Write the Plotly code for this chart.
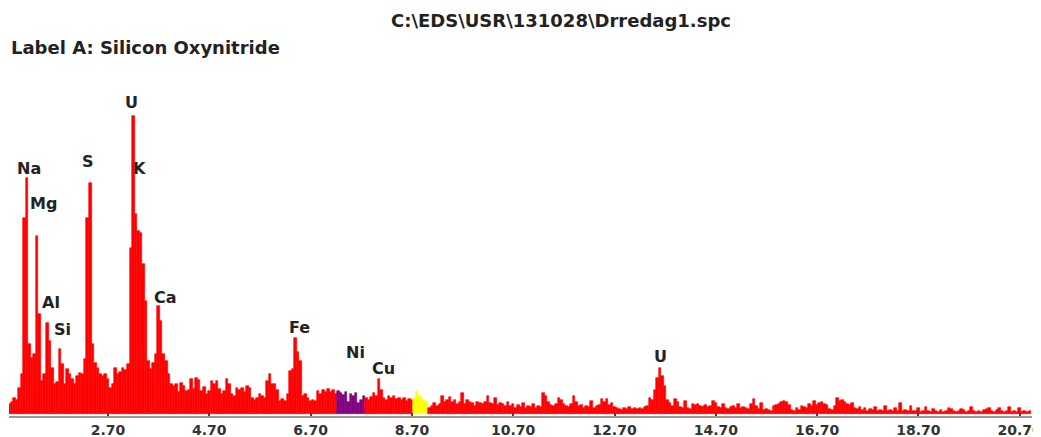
import plotly.graph_objects as go

# ---- data -------------------------------------------------------------
start_kev = 0.75
step_kev = 0.05
counts = [
    10, 12, 16, 14, 26, 40, 196, 236, 70, 56,
    60, 178, 100, 33, 40, 91, 73, 46, 30, 32,
    65, 50, 30, 45, 40, 35, 30, 38, 41, 40,
    55, 196, 231, 70, 51, 46, 40, 38, 40, 35,
    26, 30, 46, 40, 42, 46, 44, 50, 166, 298,
    200, 183, 181, 150, 113, 53, 45, 51, 60, 108,
    93, 60, 53, 40, 30, 28, 30, 22, 31, 28,
    23, 24, 35, 25, 36, 34, 23, 27, 20, 23,
    33, 30, 33, 25, 20, 23, 35, 30, 20, 18,
    26, 24, 26, 22, 28, 26, 16, 14, 16, 20,
    18, 16, 33, 40, 30, 30, 24, 13, 15, 13,
    20, 43, 45, 76, 62, 53, 18, 20, 16, 13,
    14, 13, 23, 20, 24, 22, 25, 22, 24, 20,
    23, 21, 19, 22, 12, 20, 18, 21, 11, 14,
    18, 16, 14, 17, 21, 18, 35, 24, 16, 14,
    18, 16, 18, 15, 16, 14, 16, 13, 15, 14,
    15, 23, 18, 15, 13, 12, 6, 8, 11, 8,
    10, 18, 12, 14, 17, 12, 14, 10, 12, 21,
    10, 14, 12, 11, 8, 12, 11, 10, 12, 18,
    11, 10, 16, 9, 11, 10, 8, 12, 8, 10,
    6, 9, 7, 11, 6, 8, 7, 10, 6, 8,
    7, 21, 18, 12, 9, 8, 10, 16, 14, 10,
    8, 7, 10, 18, 12, 8, 9, 6, 8, 7,
    13, 6, 8, 9, 15, 12, 15, 9, 11, 7,
    6, 5, 4, 6, 5, 7, 5, 6, 5, 6,
    5, 7, 8, 16, 14, 24, 36, 46, 38, 28,
    14, 11, 8, 15, 12, 7, 6, 13, 6, 5,
    10, 9, 10, 8, 7, 9, 7, 8, 13, 11,
    7, 6, 10, 6, 5, 7, 8, 6, 10, 6,
    7, 6, 5, 10, 15, 8, 5, 11, 4, 5,
    4, 3, 8, 9, 10, 12, 13, 12, 9, 4,
    3, 6, 4, 8, 7, 6, 10, 8, 13, 9,
    11, 12, 10, 9, 5, 4, 8, 16, 13, 14,
    12, 10, 9, 11, 6, 5, 7, 4, 6, 3,
    5, 4, 7, 3, 4, 3, 8, 3, 4, 3,
    6, 3, 11, 3, 4, 3, 8, 3, 3, 6,
    2, 3, 7, 3, 2, 5, 3, 2, 4, 2,
    3, 6, 5, 3, 2, 3, 5, 4, 2, 3,
    7, 3, 2, 3, 2, 4, 5, 6, 3, 2,
    4, 6, 3, 2, 3, 7, 2, 3, 2, 6,
    2, 3, 2, 3,
]
energies = [round(start_kev + step_kev * i, 3) for i in range(len(counts))]

# regions of interest (keV)
roi_ni = (7.25, 7.75)
roi_yellow = (8.75, 9.00)

# peak labels
label_names = ["Na", "Mg", "Al", "Si", "S", "U", "K", "Ca", "Fe", "Ni", "Cu", "U"]
label_energy = [1.14, 1.42, 1.58, 1.81, 2.31, 3.17, 3.33, 3.83, 6.49, 7.58, 8.13, 13.60]
label_height = [246, 211, 112, 85, 253, 312, 246, 117, 87, 62, 46, 58]

tick_vals = [2.7, 4.7, 6.7, 8.7, 10.7, 12.7, 14.7, 16.7, 18.7, 20.7]
tick_text = ["2.70", "4.70", "6.70", "8.70", "10.70", "12.70", "14.70", "16.70", "18.70", "20.70"]

title_text = "C:\\EDS\\USR\\131028\\Drredag1.spc"
label_text = "Label A: Silicon Oxynitride"

# ---- figure -----------------------------------------------------------
RED = "#ff0000"
PURPLE = "#800080"
YELLOW = "#ffff00"


def bar_color(e):
    if roi_ni[0] - 1e-9 <= e <= roi_ni[1] + 1e-9:
        return PURPLE
    if roi_yellow[0] - 1e-9 <= e <= roi_yellow[1] + 1e-9:
        return YELLOW
    return RED


colors = [bar_color(e) for e in energies]

fig = go.Figure()
fig.add_trace(go.Bar(
    x=energies, y=counts, width=step_kev,
    marker=dict(color=colors, line=dict(color=colors, width=0.6)),
    hoverinfo="x+y",
))

FONT = "DejaVu Sans"
for name, e, h in zip(label_names, label_energy, label_height):
    fig.add_annotation(x=e, y=h, text=f"<b>{name}</b>", showarrow=False,
                       font=dict(family=FONT, size=16, color="#222222"),
                       xanchor="center", yanchor="middle")

fig.add_annotation(xref="paper", yref="paper", x=0.5396, y=1.177,
                   text=f"<b>{title_text}</b>", showarrow=False,
                   font=dict(family=FONT, size=18, color="#222222"),
                   xanchor="center", yanchor="middle")
fig.add_annotation(xref="paper", yref="paper", x=0.0, y=1.097,
                   text=f"<b>{label_text}</b>", showarrow=False,
                   font=dict(family=FONT, size=18, color="#222222"),
                   xanchor="left", yanchor="middle")

# page body has an 8px margin, so the figure is sized/margined to compensate
fig.update_layout(
    width=1033, height=429,
    margin=dict(l=1, r=9, t=72, b=21, autoexpand=False),
    paper_bgcolor="white", plot_bgcolor="white",
    bargap=0, showlegend=False,
    xaxis=dict(
        range=[0.745, 20.943], tickvals=tick_vals, ticktext=tick_text,
        showgrid=False, zeroline=False, automargin=False,
        showline=True, linecolor="#999999", linewidth=2,
        ticks="inside", ticklen=3, tickwidth=2, tickcolor="#444444",
        ticklabelstandoff=0, ticklabeloverflow="allow",
        tickfont=dict(family=FONT, size=14, color="#333333", weight="bold"),
    ),
    yaxis=dict(range=[-2, 334], visible=False, showgrid=False, zeroline=False,
               automargin=False),
)

fig.write_html("out.html")
